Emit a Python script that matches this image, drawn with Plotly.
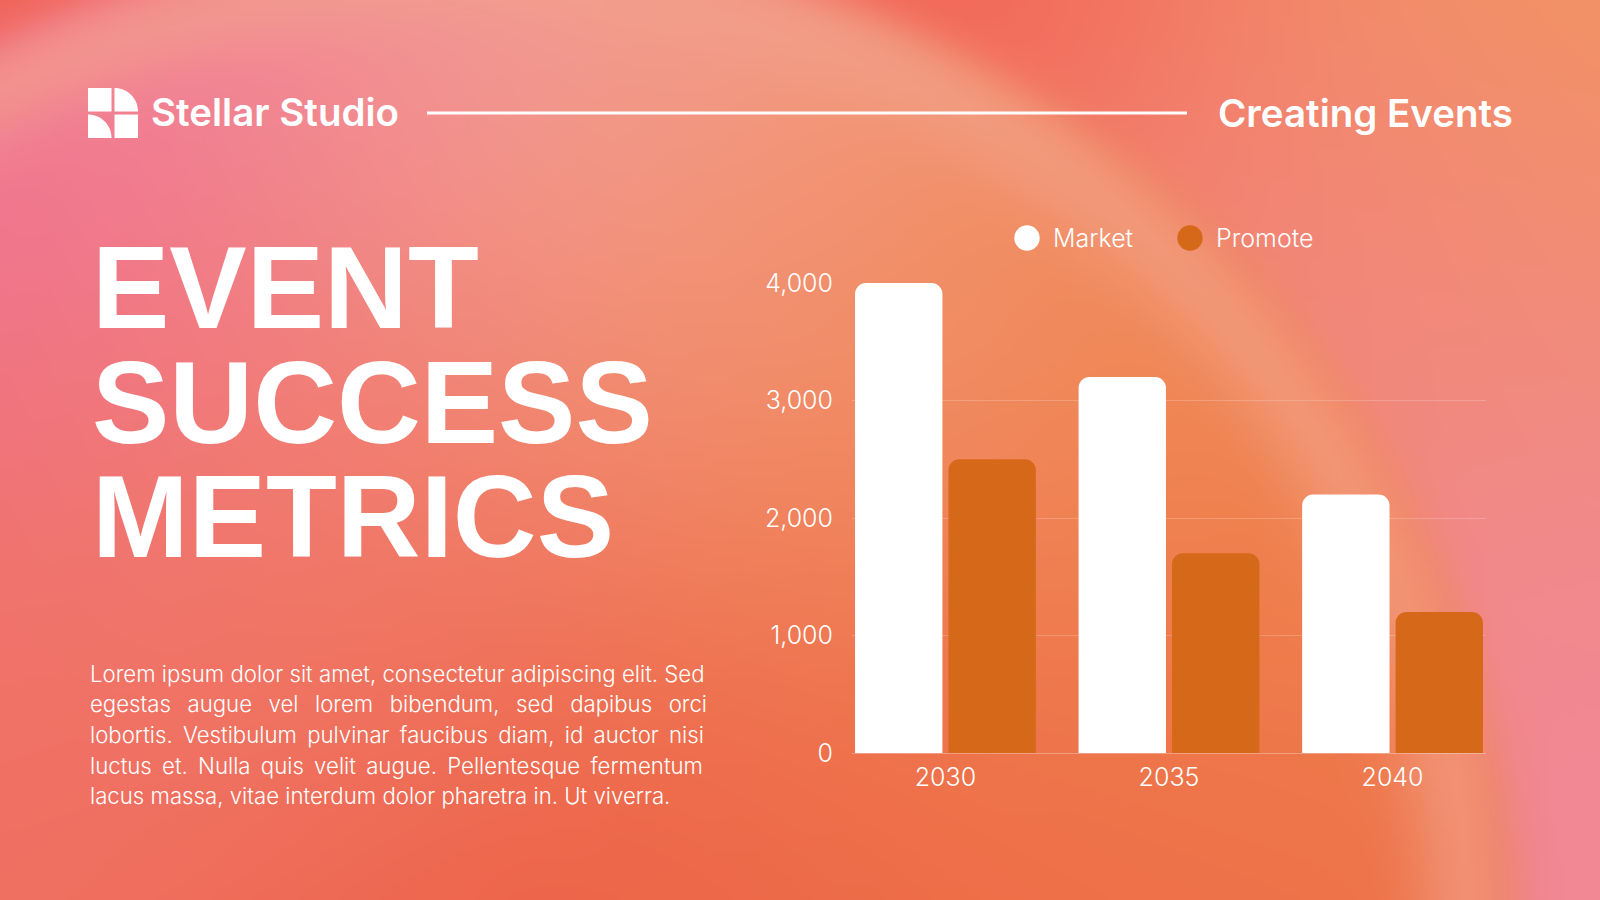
import base64
import struct
import zlib
import numpy as np
import plotly.graph_objects as go

# Данные графика
years = ["2030", "2035", "2040"]
series_names = ["Market", "Promote"]
market = [4000, 3200, 2200]
promote = [2500, 1700, 1200]
y_ticks = [0, 1000, 2000, 3000, 4000]
y_tick_labels = ["0", "1,000", "2,000", "3,000", "4,000"]

title_lines = ["EVENT", "SUCCESS", "METRICS"]
brand = "Stellar Studio"
section = "Creating Events"
paragraph_lines = [
    "Lorem ipsum dolor sit amet, consectetur adipiscing elit. Sed",
    "egestas augue vel lorem bibendum, sed dapibus orci",
    "lobortis. Vestibulum pulvinar faucibus diam, id auctor nisi",
    "luctus et. Nulla quis velit augue. Pellentesque fermentum",
    "lacus massa, vitae interdum dolor pharetra in. Ut viverra.",
]
# доп. пробелы между словами, чтобы строки выглядели выровненными по ширине
paragraph_pad = ["", "\u00a0\u2009", "\u2009", "\u2009", ""]

W, H = 1600, 900
WHITE = "#FFFFFF"
ORANGE = "#D6681A"
colors = [WHITE, ORANGE]


# Пиксели -> координаты paper (поля нулевые, paper = вся картинка)
def px(x):
    return x / W


def py(y):
    return 1 - y / H


# Фон: мягкий градиент с большим кругом
def make_background(w=400, h=225):
    xs = np.linspace(0, W, w)
    ys = np.linspace(0, H, h)
    X, Y = np.meshgrid(xs, ys)

    def blend(anchors):
        num = np.zeros((h, w, 3))
        den = np.zeros((h, w))
        for ax, ay, col, sig in anchors:
            wgt = np.exp(-((X - ax) ** 2 + (Y - ay) ** 2) / (2 * sig ** 2))
            num += wgt[..., None] * np.array(col, dtype=float)
            den += wgt
        return num / den[..., None]

    inside = blend([
        (0, 250, (240, 110, 150), 200),
        (150, 0, (242, 130, 155), 250),
        (560, 80, (243, 162, 152), 250),
        (820, 330, (243, 148, 115), 200),
        (1050, 450, (240, 135, 78), 280),
        (300, 500, (242, 126, 108), 230),
        (0, 650, (240, 112, 100), 250),
        (600, 880, (237, 96, 70), 280),
        (1050, 860, (238, 110, 72), 240),
    ])
    outside = blend([
        (950, 0, (242, 100, 88), 200),
        (1550, 60, (243, 148, 95), 280),
        (1600, 600, (241, 136, 150), 300),
        (1300, 260, (242, 130, 125), 180),
    ])

    r = np.sqrt(((X - 465) / 1050) ** 2 + ((Y - 950) / 1020) ** 2)
    depth = (1 - r) * 1040
    band = np.exp(-((depth - 45) / 55) ** 2) * 0.6
    light = np.array((243, 162, 140), dtype=float)
    inside = inside * (1 - band[..., None]) + light * band[..., None]
    m = 1 / (1 + np.exp(-depth / 12))
    img = inside * m[..., None] + outside * (1 - m[..., None])
    rgb = np.clip(img, 0, 255).astype(np.uint8)

    raw = b"".join(b"\x00" + rgb[i].tobytes() for i in range(h))

    def chunk(tag, data):
        return (struct.pack(">I", len(data)) + tag + data
                + struct.pack(">I", zlib.crc32(tag + data) & 0xFFFFFFFF))

    png = (b"\x89PNG\r\n\x1a\n"
           + chunk(b"IHDR", struct.pack(">IIBBBBB", w, h, 8, 2, 0, 0, 0))
           + chunk(b"IDAT", zlib.compress(raw, 9))
           + chunk(b"IEND", b""))
    return "data:image/png;base64," + base64.b64encode(png).decode()


fig = go.Figure()
for name, vals, col in zip(series_names, [market, promote], colors):
    fig.add_trace(go.Bar(x=years, y=vals, name=name, marker=dict(color=col, line=dict(width=0)),
                         showlegend=False, hoverinfo="x+y+name"))

fig.update_layout(
    width=W, height=H,
    autosize=False,
    margin=dict(l=0, r=0, t=0, b=0, pad=0, autoexpand=False),
    paper_bgcolor="#F0884E",
    plot_bgcolor="rgba(0,0,0,0)",
    showlegend=False,
    barmode="group",
    bargap=0.164,
    bargroupgap=0.065,
    barcornerradius=11,
    font=dict(family="Inter", color=WHITE),
    xaxis=dict(
        domain=[px(852), px(1486)],
        range=[-0.418, 2.418],
        showgrid=False, zeroline=False, automargin=False,
        showline=True, linecolor="rgba(255,255,255,0.3)", linewidth=1,
        ticks="", ticklabelstandoff=2,
        tickfont=dict(family="Inter", size=25, weight=300, color=WHITE),
        fixedrange=True,
    ),
    yaxis=dict(
        domain=[py(753), py(283)],
        range=[0, 4000],
        tickvals=y_ticks, ticktext=y_tick_labels,
        showgrid=True, gridcolor="rgba(255,255,255,0.2)", gridwidth=1,
        zeroline=False, showline=False, automargin=False,
        ticks="", ticklabelstandoff=18,
        tickfont=dict(family="Inter", size=25, weight=300, color=WHITE),
        fixedrange=True,
    ),
    images=[dict(source=make_background(), xref="paper", yref="paper", x=0, y=1,
                 sizex=1, sizey=1, sizing="stretch", layer="below", xanchor="left", yanchor="top")],
)

shapes = []
# Логотип: четыре части, две со скруглением
s0, g, side = 88, 3, 23.5
def rect_path(x0, y0, x1, y1):
    return f"M{px(x0)},{py(y0)} L{px(x1)},{py(y0)} L{px(x1)},{py(y1)} L{px(x0)},{py(y1)} Z"

def quarter_path(x0, y0, x1, y1):
    # четверть круга с центром в нижнем левом углу
    pts = [(x0, y1), (x0, y0)]
    for a in np.linspace(np.pi / 2, 0, 20):
        pts.append((x0 + (x1 - x0) * np.cos(a), y1 - (y1 - y0) * np.sin(a)))
    return "M" + " L".join(f"{px(a)},{py(b)}" for a, b in pts) + " Z"

a0, a1 = s0, s0 + side
b0, b1 = s0 + side + g, s0 + 2 * side + g
shapes.append(dict(type="path", path=rect_path(a0, a0, a1, a1)))
shapes.append(dict(type="path", path=quarter_path(b0, a0, b1, a1)))
shapes.append(dict(type="path", path=quarter_path(a0, b0, a1, b1)))
shapes.append(dict(type="path", path=rect_path(b0, b0, b1, b1)))
for sh in shapes:
    sh.update(xref="paper", yref="paper", fillcolor=WHITE, line=dict(width=0), layer="above")

# Линия в шапке
shapes.append(dict(type="line", xref="paper", yref="paper", x0=px(427), x1=px(1187), y0=py(113), y1=py(113),
                   line=dict(color=WHITE, width=3)))

# Легенда (круглые маркеры)
legend_pos = [(1027, 1051), (1190, 1214)]
for (cx, tx), name, col in zip(legend_pos, series_names, colors):
    shapes.append(dict(type="circle", xref="paper", yref="paper",
                       x0=px(cx - 12.7), x1=px(cx + 12.7), y0=py(238 + 12.7), y1=py(238 - 12.7),
                       fillcolor=col, line=dict(width=0)))
fig.update_layout(shapes=shapes)

ann = []
ann.append(dict(text=brand, x=px(149), y=py(112), xanchor="left", yanchor="middle",
                font=dict(family="Inter", size=38.5, weight=600, color=WHITE)))
ann.append(dict(text=section, x=px(1216), y=py(113), xanchor="left", yanchor="middle",
                font=dict(family="Inter", size=38.5, weight=600, color=WHITE)))
for line, yc in zip(title_lines, [288, 403, 517]):
    ann.append(dict(text=line, x=px(90), y=py(yc), xanchor="left", yanchor="middle",
                    font=dict(family="Liberation Sans", size=116, weight=700, color=WHITE)))
for i, (line, pad) in enumerate(zip(paragraph_lines, paragraph_pad)):
    text = line.replace(" ", " " + pad)
    ann.append(dict(text=text, x=px(88), y=py(673 + i * 30.7), xanchor="left", yanchor="middle",
                    font=dict(family="Inter", size=22.2, weight=300, color=WHITE)))
for (cx, tx), name in zip(legend_pos, series_names):
    ann.append(dict(text=name, x=px(tx), y=py(238), xanchor="left", yanchor="middle",
                    font=dict(family="Inter", size=25, weight=300, color=WHITE)))
for a in ann:
    a.update(xref="paper", yref="paper", showarrow=False)
fig.update_layout(annotations=ann)

fig.write_html("out.html", config={"displayModeBar": False},
               post_script="document.body.style.margin='0';")
